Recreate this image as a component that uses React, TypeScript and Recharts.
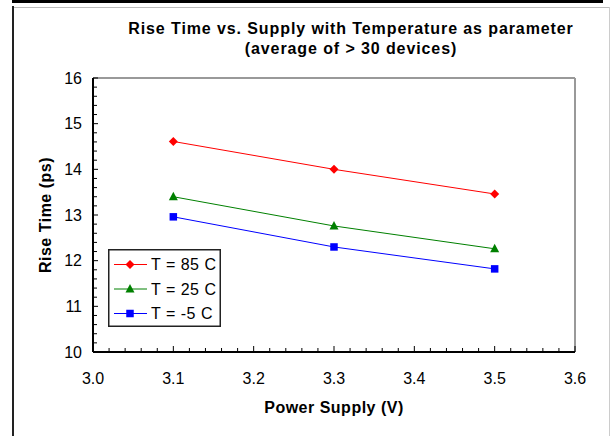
import React from "react";
import { LineChart, Line, XAxis, YAxis, ReferenceLine } from "recharts";

const supply = [3.1, 3.3, 3.5];
const riseT85 = [14.61, 14.0, 13.46];
const riseT25 = [13.4, 12.76, 12.26];
const riseTm5 = [12.96, 12.3, 11.82];

const xTicks = [
  3.0, 3.02, 3.04, 3.06, 3.08, 3.1, 3.12, 3.14, 3.16, 3.18, 3.2, 3.22, 3.24, 3.26, 3.28, 3.3,
  3.32, 3.34, 3.36, 3.38, 3.4, 3.42, 3.44, 3.46, 3.48, 3.5, 3.52, 3.54, 3.56, 3.58, 3.6,
];
const yTicks = [
  10, 10.2, 10.4, 10.6, 10.8, 11, 11.2, 11.4, 11.6, 11.8, 12, 12.2, 12.4, 12.6, 12.8, 13,
  13.2, 13.4, 13.6, 13.8, 14, 14.2, 14.4, 14.6, 14.8, 15, 15.2, 15.4, 15.6, 15.8, 16,
];

const seriesNames = ["T = 85 C", "T = 25 C", "T = -5 C"];

const data = supply.map((v, i) => ({ v, t85: riseT85[i], t25: riseT25[i], tm5: riseTm5[i] }));

const FONT = '"Liberation Sans", Arial, Helvetica, sans-serif';

const isMajor = (v: number, step: number) => Math.abs(v / step - Math.round(v / step)) < 1e-6;

function XTick({ x, y, payload }: any) {
  const major = isMajor(payload.value, 0.1);
  return (
    <g>
      <line x1={x} x2={x} y1={y} y2={y - (major ? 6 : 4)} stroke="#000" strokeWidth={1} />
      {major && (
        <text x={x} y={y + 32} textAnchor="middle" fontSize={16} fontFamily={FONT} fill="#000">
          {payload.value.toFixed(1)}
        </text>
      )}
    </g>
  );
}

function YTick({ x, y, payload }: any) {
  const major = isMajor(payload.value, 1);
  return (
    <g>
      <line x1={x} x2={x + (major ? 5 : 4)} y1={y} y2={y} stroke="#000" strokeWidth={1} />
      {major && (
        <text x={x - 11} y={y} textAnchor="end" dominantBaseline="central" fontSize={16} fontFamily={FONT} fill="#000">
          {payload.value}
        </text>
      )}
    </g>
  );
}

function Marker({ kind, cx, cy, color }: { kind: string; cx: number; cy: number; color: string }) {
  if (kind === "diamond") {
    return <path d={`M${cx},${cy - 4.5}L${cx + 4.5},${cy}L${cx},${cy + 4.5}L${cx - 4.5},${cy}Z`} fill={color} />;
  }
  if (kind === "triangle") {
    return <path d={`M${cx},${cy - 5}L${cx + 4.5},${cy + 3.5}L${cx - 4.5},${cy + 3.5}Z`} fill={color} />;
  }
  return <rect x={cx - 3.75} y={cy - 3.75} width={7.5} height={7.5} fill={color} />;
}

const SERIES = [
  { key: "t85", color: "#ff0000", kind: "diamond" },
  { key: "t25", color: "#008000", kind: "triangle" },
  { key: "tm5", color: "#0000ff", kind: "square" },
];

function LegendBox() {
  return (
    <svg width={113} height={78} style={{ position: "absolute", left: 108, top: 249 }}>
      <rect x={0.75} y={0.75} width={111.5} height={76.5} fill="#fff" stroke="#222" strokeWidth={1.5} />
      {SERIES.map((s, i) => {
        const cy = 15.5 + i * 24.5;
        return (
          <g key={s.key}>
            <line x1={6} x2={39} y1={cy} y2={cy} stroke={s.color} strokeWidth={1} />
            <Marker kind={s.kind} cx={22} cy={cy} color={s.color} />
            <text x={43} y={cy} dominantBaseline="central" fontSize={16} fontFamily={FONT} fill="#000" letterSpacing={0.5}>
              {seriesNames[i]}
            </text>
          </g>
        );
      })}
    </svg>
  );
}

export default function App() {
  return (
    <div style={{ position: "absolute", left: 0, top: 0, width: 612, height: 436, background: "#fff", overflow: "hidden" }}>
      {/* page frame bits from the original capture */}
      <div style={{ position: "absolute", left: 12, top: 0, width: 591, height: 3, background: "#000" }} />
      <div style={{ position: "absolute", left: 12, top: 7, width: 598, height: 1, background: "#bbb" }} />
      <div style={{ position: "absolute", left: 12, top: 6, width: 2, height: 430, background: "#222" }} />
      <div style={{ position: "absolute", left: 609, top: 7, width: 1, height: 429, background: "#ccc" }} />

      <LineChart width={612} height={436} data={data} margin={{ top: 78, right: 37, left: 0, bottom: 0 }}>
        <XAxis
          dataKey="v"
          type="number"
          domain={[3.0, 3.6]}
          ticks={xTicks}
          interval={0}
          tickSize={0}
          tickMargin={0}
          tickLine={false}
          tick={<XTick />}
          height={84}
          axisLine={{ stroke: "#000", strokeWidth: 2 }}
        />
        <YAxis
          type="number"
          domain={[10, 16]}
          ticks={yTicks}
          interval={0}
          tickSize={0}
          tickMargin={0}
          tickLine={false}
          tick={<YTick />}
          width={93}
          axisLine={{ stroke: "#000", strokeWidth: 2 }}
        />
        <ReferenceLine y={16} stroke="#999" strokeWidth={2} />
        <ReferenceLine x={3.6} stroke="#999" strokeWidth={2} />
        {SERIES.map((s, i) => (
          <Line
            key={s.key}
            dataKey={s.key}
            name={seriesNames[i]}
            stroke={s.color}
            strokeWidth={1}
            isAnimationActive={false}
            dot={(p: any) => <Marker key={`${s.key}-${p.index}`} kind={s.kind} cx={p.cx} cy={p.cy} color={s.color} />}
            activeDot={false}
          />
        ))}
      </LineChart>

      <LegendBox />

      <svg width={612} height={436} style={{ position: "absolute", left: 0, top: 0, pointerEvents: "none" }}>
        <text x={351} y={33.5} textAnchor="middle" fontSize={16} fontWeight="bold" fontFamily={FONT} letterSpacing={0.9}>
          Rise Time vs. Supply with Temperature as parameter
        </text>
        <text x={351} y={54} textAnchor="middle" fontSize={16} fontWeight="bold" fontFamily={FONT} letterSpacing={0.9}>
          (average of &gt; 30 devices)
        </text>
        <text x={334} y={413} textAnchor="middle" fontSize={16} fontWeight="bold" fontFamily={FONT} letterSpacing={0.5}>
          Power Supply (V)
        </text>
        <text
          x={45}
          y={215}
          textAnchor="middle"
          dominantBaseline="central"
          fontSize={16}
          fontWeight="bold"
          fontFamily={FONT}
          letterSpacing={0.5}
          transform="rotate(-90 45 215)"
        >
          Rise Time (ps)
        </text>
      </svg>
    </div>
  );
}
